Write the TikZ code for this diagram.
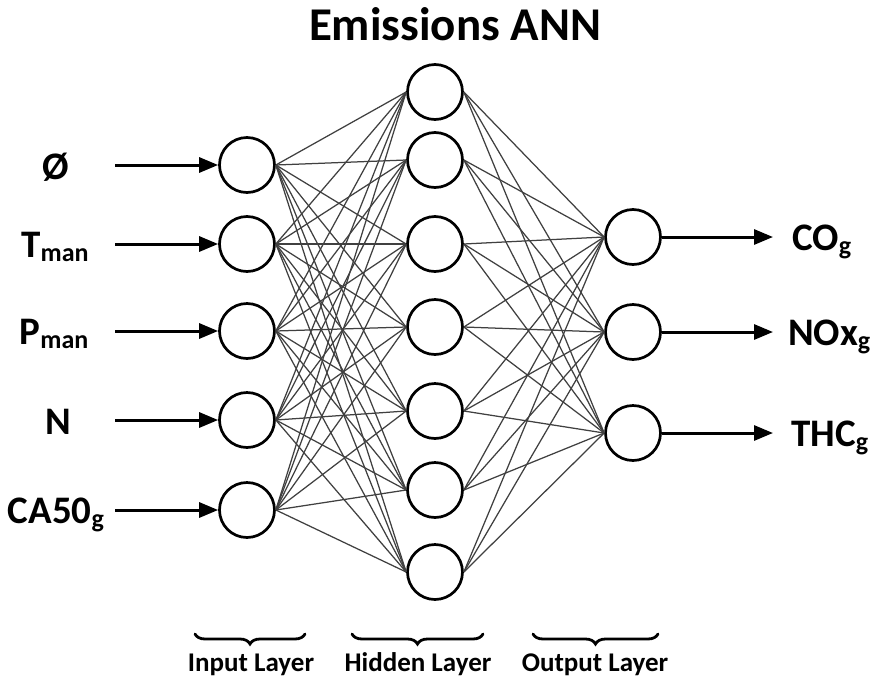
\documentclass[tikz,border=0pt]{standalone}
\usepackage{fontspec}
\setmainfont{Carlito}
\usetikzlibrary{arrows.meta,decorations.pathreplacing}
\newcommand\lsub[1]{\raisebox{-4pt}{\fontsize{26}{26}\selectfont #1}}
\begin{document}
\begin{tikzpicture}[x=1pt,y=-1pt,
  neuron/.style={circle,draw=black,line width=2.7pt,minimum size=55pt,inner sep=0pt,fill=white},
  link/.style={line width=1.25pt,draw=black!75},
  feed/.style={line width=3pt,-{Triangle[length=19pt,width=15pt]}},
  lbl/.style={font=\fontsize{39}{39}\selectfont\bfseries,inner sep=0pt},
  layerlbl/.style={font=\fontsize{27}{27}\selectfont\bfseries,inner sep=0pt,anchor=base},
  bracestyle/.style={line width=2.8pt,line cap=round,decorate,decoration={brace,mirror,amplitude=10pt}}]
\useasboundingbox (0,0) rectangle (876,686);

% title
\node[font=\fontsize{47}{47}\selectfont\bfseries,anchor=base,inner sep=0pt] (title) at (455,40) {Emissions ANN};

% input layer
\node[neuron] (i1) at (247,165) {};
\node[neuron] (i2) at (247,244) {};
\node[neuron] (i3) at (247,331) {};
\node[neuron] (i4) at (247,420) {};
\node[neuron] (i5) at (247,510) {};

% hidden layer
\node[neuron] (h1) at (435,92) {};
\node[neuron] (h2) at (435,160) {};
\node[neuron] (h3) at (435,244) {};
\node[neuron] (h4) at (435,327) {};
\node[neuron] (h5) at (435,411) {};
\node[neuron] (h6) at (435,490) {};
\node[neuron] (h7) at (435,572) {};

% output layer
\node[neuron] (o1) at (633,237) {};
\node[neuron] (o2) at (633,332) {};
\node[neuron] (o3) at (633,433) {};

% connections
\foreach \i in {1,...,5}
  \foreach \h in {1,...,7}
    \draw[link] (i\i.east) -- (h\h.west);
\foreach \h in {1,...,7}
  \foreach \o in {1,2,3}
    \draw[link] (h\h.east) -- (o\o.west);

% input labels and arrows
\node[lbl,anchor=base] (l1) at (56,179) {Ø};
\node[lbl,anchor=base] (l2) at (55,257) {T\lsub{man}};
\node[lbl,anchor=base] (l3) at (54,344) {P\lsub{man}};
\node[lbl,anchor=base] (l4) at (58,434) {N};
\node[lbl,anchor=base] (l5) at (56,523) {CA50\lsub{g}};
\foreach \k/\y in {1/165,2/244,3/331,4/420,5/510}{
  \coordinate (s\k) at (115,\y);
  \draw[feed] (s\k) -- (i\k.west);
}

% output arrows and labels
\foreach \k/\y in {1/237,2/332,3/433}{
  \coordinate (e\k) at (773,\y);
  \draw[feed] (o\k.east) -- (e\k);
}
\node[lbl,anchor=base west] (r1) at (792,250) {CO\lsub{g}};
\node[lbl,anchor=base west] (r2) at (788,345) {NOx\lsub{g}};
\node[lbl,anchor=base west] (r3) at (791,446) {THC\lsub{g}};

% braces and layer names
\coordinate (b1l) at (195,634); \coordinate (b1r) at (305,634);
\coordinate (b2l) at (352,634); \coordinate (b2r) at (483,634);
\coordinate (b3l) at (533,634); \coordinate (b3r) at (658,634);
\draw[bracestyle] (b1l) -- (b1r);
\draw[bracestyle] (b2l) -- (b2r);
\draw[bracestyle] (b3l) -- (b3r);
\node[layerlbl] (t1) at (251,671) {Input Layer};
\node[layerlbl] (t2) at (418,671) {Hidden Layer};
\node[layerlbl] (t3) at (595,671) {Output Layer};
\end{tikzpicture}
\end{document}
